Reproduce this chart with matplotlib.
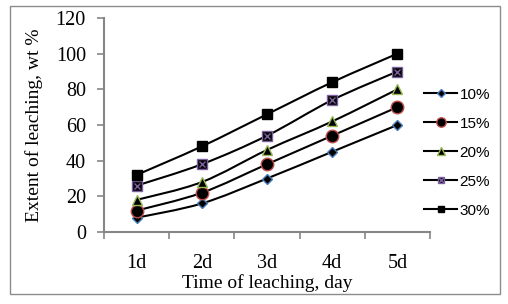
import numpy as np
import matplotlib.pyplot as plt
from matplotlib.path import Path
from matplotlib.patches import PathPatch, Rectangle
from matplotlib.lines import Line2D

days = ['1d', '2d', '3d', '4d', '5d']
labels = ['10%', '15%', '20%', '25%', '30%']
v10 = [8, 16, 30, 45, 60]
v15 = [12, 22, 38, 54, 70]
v20 = [18, 28, 46, 62, 80]
v25 = [26, 38, 54, 74, 90]
v30 = [32, 48, 66, 84, 100]
series = [v10, v15, v20, v25, v30]

# marker styles (Excel-like)
styles = [
    dict(marker='D', ms=5.5, mfc='black', mec='#4a7ebb', mew=1.0),
    dict(marker='o', ms=9, mfc='black', mec='#be4b48', mew=1.0),
    dict(marker='^', ms=7, mfc='black', mec='#98b954', mew=1.0),
    dict(marker='s', ms=6.5, mfc='black', mec='#7d60a0', mew=1.0),
    dict(marker='s', ms=6.5, mfc='black', mec='black', mew=1.0),
]


def smooth_path(x, y):
    """Catmull-Rom -> bezier, like excel smoothed lines"""
    pts = np.column_stack([x, y]).astype(float)
    n = len(pts)
    verts = [pts[0]]
    codes = [Path.MOVETO]
    for i in range(n - 1):
        p0 = pts[max(i - 1, 0)]
        p1 = pts[i]
        p2 = pts[i + 1]
        p3 = pts[min(i + 2, n - 1)]
        c1 = p1 + (p2 - p0) / 6.0
        c2 = p2 - (p3 - p1) / 6.0
        verts += [c1, c2, p2]
        codes += [Path.CURVE4] * 3
    return Path(verts, codes)


plt.rcParams['font.family'] = 'Liberation Serif'
fig = plt.figure(figsize=(5.08, 3.04), dpi=100)
fig.patches.append(Rectangle((10 / 508, 10 / 304), 490 / 508, 288 / 304,
                             transform=fig.transFigure, fill=False,
                             edgecolor='#8c8c8c', lw=1.0))
ax = fig.add_axes([104 / 508, 1 - 232 / 304, 326 / 508, 214 / 304])

x = np.arange(len(days))
for vals, st in zip(series, styles):
    ax.add_patch(PathPatch(smooth_path(x, vals), fill=False, edgecolor='black',
                           lw=1.5, zorder=2))
    ax.plot(x, vals, ls='none', zorder=3, **st)
ax.plot(x, v25, ls='none', marker='x', ms=5, mec='#7d60a0', mew=1.0, zorder=4)

ax.set_xlim(-0.5, 4.5)
ax.set_ylim(0, 120)
ax.set_yticks(range(0, 121, 20))
ax.set_xticks(x)
ax.set_xticklabels(days)
ax.set_xticks(np.arange(-0.5, 4.6, 1), minor=True)
ax.tick_params(axis='x', which='major', length=0, pad=16, labelsize=14.5)
ax.tick_params(axis='x', which='minor', length=5, color='#868686', width=1.2)
ax.tick_params(axis='y', length=5, color='#868686', width=1.2, pad=8, labelsize=14.5)
for s in ['top', 'right']:
    ax.spines[s].set_visible(False)
for s in ['left', 'bottom']:
    ax.spines[s].set_color('#868686')
    ax.spines[s].set_linewidth(1.5)

ax.set_ylabel('Extent of leaching, wt %', fontsize=14)
ax.yaxis.set_label_coords(-0.187, 0.5)
ax.set_xlabel('Time of leaching, day', fontsize=14)
ax.xaxis.set_label_coords(0.5, -0.195)

# legend markers are drawn a bit smaller than on the plot
handles = []
for lab, st in zip(labels, styles):
    st_leg = dict(st, ms=st['ms'] * 0.75)
    h = Line2D([], [], color='black', lw=1.5, **st_leg)
    if lab == '25%':
        hx = Line2D([], [], ls='none', marker='x', ms=4, mec='#7d60a0', mew=1.0)
        h = (h, hx)
    handles.append(h)
leg = fig.legend(handles, labels, loc='upper left',
                 bbox_to_anchor=(410 / 508, 1 - 74 / 304), frameon=False,
                 handlelength=2.2, handletextpad=0.15, labelspacing=0.98,
                 prop={'family': 'Liberation Sans', 'size': 11})

fig.savefig('out.png', dpi=100)
